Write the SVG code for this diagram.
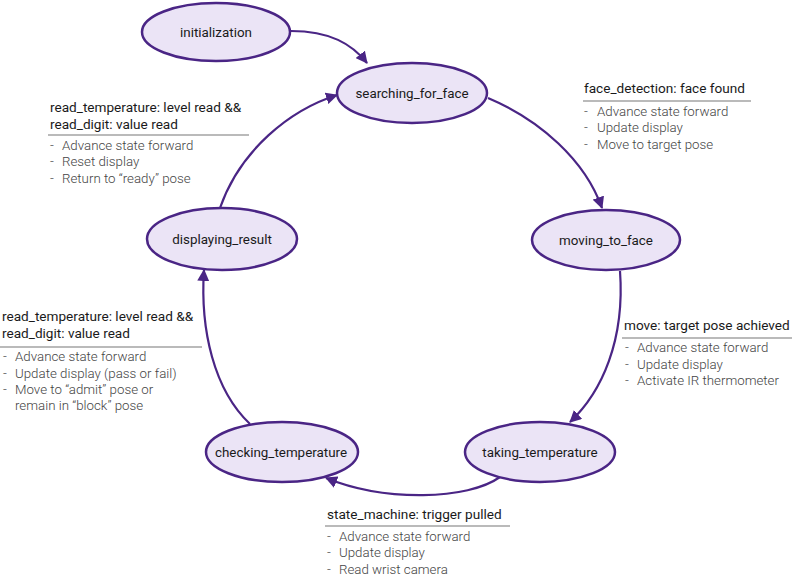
<svg xmlns="http://www.w3.org/2000/svg" width="792" height="585" viewBox="0 0 792 585">
  <defs>
    <marker id="arrow" viewBox="0 0 12 12" refX="11" refY="6" markerWidth="12" markerHeight="12" markerUnits="userSpaceOnUse" orient="auto">
      <path d="M0,0 L12,6 L0,12 Z" fill="#4a2585"/>
    </marker>
    <style>
      .state ellipse { fill: #ebe4f6; stroke: #4a2585; stroke-width: 2.5; }
      .state text { font-family: Roboto, "Liberation Sans", sans-serif; font-size: 13.4px; fill: #1a1a1a; text-anchor: middle; }
      .edge { fill: none; stroke: #4a2585; stroke-width: 2.2; marker-end: url(#arrow); }
      .head { font-family: Roboto, "Liberation Sans", sans-serif; font-size: 13.6px; fill: #1a1a1a; }
      .item { font-family: Roboto, "Liberation Sans", sans-serif; font-size: 13.3px; font-weight: 300; fill: #444; }
      .rule { stroke: #777; stroke-width: 1.2; }
    </style>
  </defs>
  <rect width="792" height="585" fill="#fff"/>

  <!-- transitions -->
  <g id="connectors">
    <path class="edge" d="M291,31 C330,31 352,44 367,63"/>
    <path class="edge" d="M488,98 C540,120 585,160 602,208"/>
    <path class="edge" d="M620,271 C625,340 602,392 570,422"/>
    <path class="edge" d="M500,477 C468,500 385,502 326,478"/>
    <path class="edge" d="M250,424 C214,390 200,330 204,270"/>
    <path class="edge" d="M220,208 C240,150 290,110 337,95"/>
  </g>

  <!-- states -->
  <g id="initialization" class="state">
    <ellipse cx="216" cy="32" rx="74" ry="29"/>
    <text x="216" y="36.5">initialization</text>
  </g>
  <g id="searching_for_face" class="state">
    <ellipse cx="412" cy="93" rx="75" ry="30"/>
    <text x="412" y="97.5">searching_for_face</text>
  </g>
  <g id="moving_to_face" class="state">
    <ellipse cx="606" cy="240" rx="74" ry="30"/>
    <text x="606" y="244.5">moving_to_face</text>
  </g>
  <g id="taking_temperature" class="state">
    <ellipse cx="540" cy="452" rx="75" ry="30"/>
    <text x="540" y="456.5">taking_temperature</text>
  </g>
  <g id="checking_temperature" class="state">
    <ellipse cx="282" cy="452" rx="76" ry="30"/>
    <text x="281" y="456.5">checking_temperature</text>
  </g>
  <g id="displaying_result" class="state">
    <ellipse cx="222" cy="239" rx="75" ry="31"/>
    <text x="222" y="243.5">displaying_result</text>
  </g>

  <!-- transition notes -->
  <g id="note-reset">
    <text class="head" x="50" y="112">read_temperature: level read &amp;&amp;</text>
    <text class="head" x="50" y="129">read_digit: value read</text>
    <line class="rule" x1="48" y1="135" x2="249" y2="135"/>
    <text class="item" x="50" y="150">-</text><text class="item" x="62" y="150">Advance state forward</text>
    <text class="item" x="50" y="166">-</text><text class="item" x="62" y="166">Reset display</text>
    <text class="item" x="50" y="183">-</text><text class="item" x="62" y="183">Return to “ready” pose</text>
  </g>
  <g id="note-face">
    <text class="head" x="584" y="93">face_detection: face found</text>
    <line class="rule" x1="583" y1="101" x2="751" y2="101"/>
    <text class="item" x="584" y="116">-</text><text class="item" x="597" y="116">Advance state forward</text>
    <text class="item" x="584" y="132">-</text><text class="item" x="597" y="132">Update display</text>
    <text class="item" x="584" y="149">-</text><text class="item" x="597" y="149">Move to target pose</text>
  </g>
  <g id="note-move">
    <text class="head" x="624" y="330">move: target pose achieved</text>
    <line class="rule" x1="622" y1="338" x2="792" y2="338"/>
    <text class="item" x="625" y="352">-</text><text class="item" x="637" y="352">Advance state forward</text>
    <text class="item" x="625" y="369">-</text><text class="item" x="637" y="369">Update display</text>
    <text class="item" x="625" y="385">-</text><text class="item" x="637" y="385">Activate IR thermometer</text>
  </g>
  <g id="note-check">
    <text class="head" x="2" y="321">read_temperature: level read &amp;&amp;</text>
    <text class="head" x="2" y="338">read_digit: value read</text>
    <line class="rule" x1="0" y1="347" x2="202" y2="347"/>
    <text class="item" x="3" y="361">-</text><text class="item" x="15" y="361">Advance state forward</text>
    <text class="item" x="3" y="378">-</text><text class="item" x="15" y="378">Update display (pass or fail)</text>
    <text class="item" x="3" y="394">-</text><text class="item" x="15" y="394">Move to “admit” pose or</text>
    <text class="item" x="15" y="410">remain in “block” pose</text>
  </g>
  <g id="note-trigger">
    <text class="head" x="327" y="519">state_machine: trigger pulled</text>
    <line class="rule" x1="325" y1="526" x2="510" y2="526"/>
    <text class="item" x="327" y="541">-</text><text class="item" x="339" y="541">Advance state forward</text>
    <text class="item" x="327" y="557">-</text><text class="item" x="339" y="557">Update display</text>
    <text class="item" x="327" y="574">-</text><text class="item" x="339" y="574">Read wrist camera</text>
  </g>
</svg>
